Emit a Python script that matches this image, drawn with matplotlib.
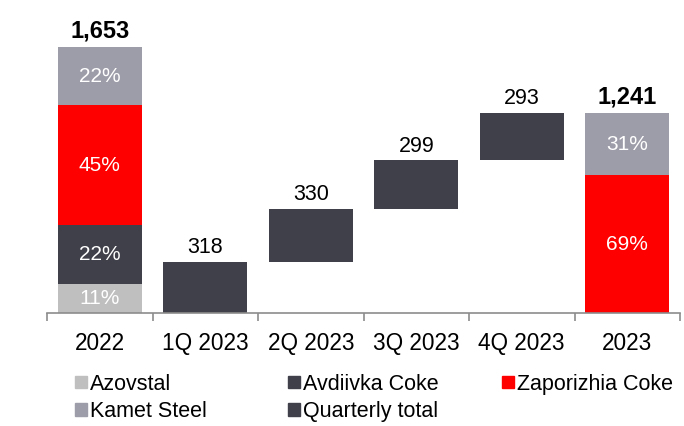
import numpy as np
import matplotlib.pyplot as plt
from matplotlib.patches import Patch

plt.rcParams["font.family"] = ["Liberation Sans", "DejaVu Sans"]

categories = ["2022", "1Q 2023", "2Q 2023", "3Q 2023", "4Q 2023", "2023"]
total_2022 = 1653
total_2023 = 1241
quarterly = [318, 330, 299, 293]
# segment shares in %, bottom to top
shares_2022 = {"Azovstal": 11, "Avdiivka Coke": 22, "Zaporizhia Coke": 45, "Kamet Steel": 22}
shares_2023 = {"Zaporizhia Coke": 69, "Kamet Steel": 31}

colors = {
    "Azovstal": "#bfbfbf",
    "Avdiivka Coke": "#40404a",
    "Zaporizhia Coke": "#ff0000",
    "Kamet Steel": "#9d9ca9",
    "Quarterly total": "#40404a",
}

fig = plt.figure(figsize=(6.84, 4.26), dpi=100)
ax = fig.add_axes([47 / 684, 113 / 426, 633 / 684, 306 / 426])
x = np.arange(len(categories))
w = 0.8

def stacked(xpos, total, shares):
    bottom = 0
    for name, pct in shares.items():
        h = total * pct / 100
        ax.bar(xpos, h, w, bottom=bottom, color=colors[name], linewidth=0)
        ax.text(xpos, bottom + h / 2, f"{pct}%", ha="center", va="center",
                color="white", fontsize=15)
        bottom += h
    ax.text(xpos, total + 60, f"{total:,}", ha="center", va="baseline",
            fontsize=17, fontweight="bold")

stacked(x[0], total_2022, shares_2022)
stacked(x[-1], total_2023, shares_2023)

# quarterly floating bars
bottoms = np.concatenate([[0], np.cumsum(quarterly)[:-1]])
for i, (b, v) in enumerate(zip(bottoms, quarterly)):
    ax.bar(x[i + 1], v, w, bottom=b, color=colors["Quarterly total"], linewidth=0)
    ax.text(x[i + 1], b + v + 55, f"{v}", ha="center", va="baseline", fontsize=15.5)

ax.set_xlim(-0.5, len(categories) - 0.5)
ax.set_ylim(0, 1900)
ax.set_yticks([])
for s in ["top", "right", "left"]:
    ax.spines[s].set_visible(False)
ax.spines["bottom"].set_color("#8c8c8c")
ax.spines["bottom"].set_linewidth(1.2)
ax.set_xticks(np.arange(len(categories) + 1) - 0.5)
ax.set_xticklabels([])
ax.tick_params(axis="x", length=6, color="#8c8c8c", width=1.2)
for i, c in enumerate(categories):
    ax.text(x[i], -120, c, ha="center", va="top", fontsize=16.3)

# legend laid out as three fixed columns
legend_cols = [["Azovstal", "Kamet Steel"],
               ["Avdiivka Coke", "Quarterly total"],
               ["Zaporizhia Coke"]]
col_x = [75, 288, 502]
for names, cx in zip(legend_cols, col_x):
    handles = [Patch(color=colors[n], label=n) for n in names]
    fig.legend(handles=handles, loc="upper left", bbox_to_anchor=(cx / 684, 0.123),
               frameon=False, fontsize=15.5, handlelength=0.55, handleheight=0.55,
               handletextpad=0.15, labelspacing=0.3, borderpad=0, borderaxespad=0)

fig.savefig("out.png", dpi=100)
